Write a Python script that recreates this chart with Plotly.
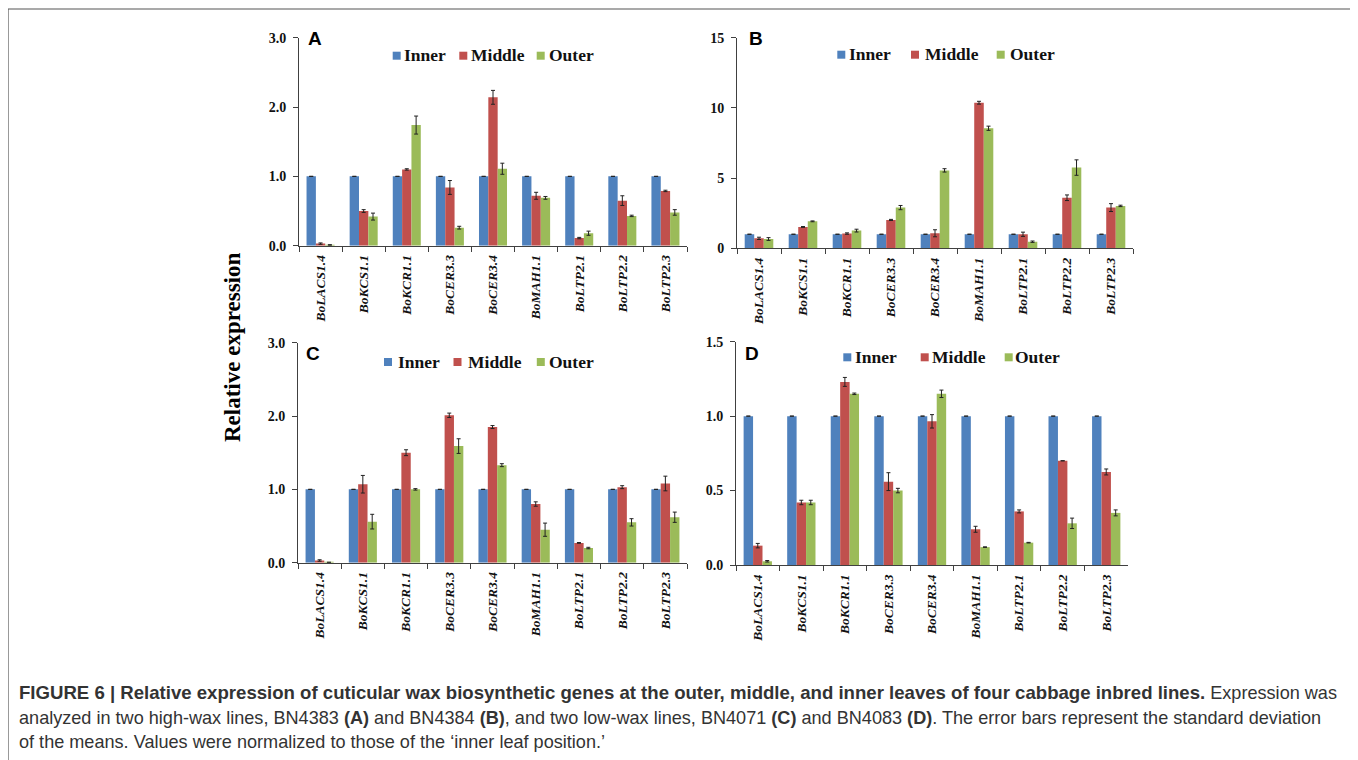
import plotly.graph_objects as go

W, H = 1358, 760
OFF = 8  # page offset of the figure inside the browser window

genes = ["BoLACS1.4", "BoKCS1.1", "BoKCR1.1", "BoCER3.3", "BoCER3.4",
         "BoMAH1.1", "BoLTP2.1", "BoLTP2.2", "BoLTP2.3"]
series_names = ["Inner", "Middle", "Outer"]
colors = ["#4F81BD", "#C0504D", "#9BBB59"]

inner = [1, 1, 1, 1, 1, 1, 1, 1, 1]
inner_err = [0, 0, 0, 0, 0, 0, 0, 0, 0]

# Panel A (BN4383)
a_mid = [0.03, 0.50, 1.10, 0.84, 2.14, 0.72, 0.11, 0.65, 0.79]
a_mid_err = [0.01, 0.02, 0.01, 0.10, 0.10, 0.05, 0.01, 0.07, 0.01]
a_out = [0.01, 0.42, 1.74, 0.26, 1.11, 0.69, 0.18, 0.43, 0.48]
a_out_err = [0.005, 0.05, 0.13, 0.02, 0.08, 0.02, 0.03, 0.01, 0.04]

# Panel B (BN4384)
b_mid = [0.71, 1.52, 1.05, 2.02, 1.07, 10.37, 1.00, 3.60, 2.90]
b_mid_err = [0.08, 0.03, 0.05, 0.04, 0.25, 0.10, 0.15, 0.20, 0.28]
b_out = [0.66, 1.92, 1.26, 2.90, 5.55, 8.55, 0.47, 5.75, 3.02]
b_out_err = [0.10, 0.03, 0.10, 0.15, 0.12, 0.15, 0.05, 0.55, 0.05]

# Panel C (BN4071)
c_mid = [0.03, 1.07, 1.50, 2.01, 1.85, 0.80, 0.27, 1.03, 1.08]
c_mid_err = [0.01, 0.12, 0.04, 0.03, 0.02, 0.03, 0.005, 0.02, 0.10]
c_out = [0.005, 0.56, 1.00, 1.59, 1.33, 0.45, 0.20, 0.55, 0.62]
c_out_err = [0.0, 0.10, 0.01, 0.10, 0.02, 0.09, 0.01, 0.05, 0.07]

# Panel D (BN4083)
d_mid = [0.13, 0.42, 1.23, 0.56, 0.965, 0.24, 0.36, 0.70, 0.625]
d_mid_err = [0.015, 0.015, 0.03, 0.06, 0.045, 0.02, 0.01, 0.0, 0.02]
d_out = [0.025, 0.42, 1.15, 0.50, 1.15, 0.12, 0.15, 0.28, 0.35]
d_out_err = [0.005, 0.015, 0.005, 0.015, 0.025, 0.002, 0.002, 0.035, 0.02]

panels = [
    dict(letter="A", mid=a_mid, mid_err=a_mid_err, out=a_out, out_err=a_out_err,
         ymax=3.0, dtick=1.0, fmt=".1f",
         px=(299, 687), py=(245.7, 37.7), let=(315, 39),
         leg_y=55.7, leg_sq=(396.7, 463.3, 540.7), leg_tx=(402, 469, 547)),
    dict(letter="B", mid=b_mid, mid_err=b_mid_err, out=b_out, out_err=b_out_err,
         ymax=15, dtick=5, fmt="d",
         px=(737, 1133), py=(248.3, 37.7), let=(756, 39),
         leg_y=54.7, leg_sq=(841.3, 915.0, 1000.7), leg_tx=(847, 922.5, 1007.5)),
    dict(letter="C", mid=c_mid, mid_err=c_mid_err, out=c_out, out_err=c_out_err,
         ymax=3.0, dtick=1.0, fmt=".1f",
         px=(298, 687), py=(562.7, 342.7), let=(313, 353),
         leg_y=362, leg_sq=(388, 457.5, 540.8), leg_tx=(395.5, 465.5, 547.3)),
    dict(letter="D", mid=d_mid, mid_err=d_mid_err, out=d_out, out_err=d_out_err,
         ymax=1.5, dtick=0.5, fmt=".1f",
         px=(736, 1128), py=(565, 341.7), let=(752, 353),
         leg_y=357.3, leg_sq=(847.3, 924.7, 1008.7), leg_tx=(852.5, 929.5, 1013)),
]


def fx(p):
    return (p - OFF) / W


def fy(p):
    return 1 - (p - OFF) / H


serif = "Liberation Serif, Times New Roman, serif"
sans = "Liberation Sans, Arial, sans-serif"
axis_col = "#404040"

fig = go.Figure()
layout = {}
annotations = []
shapes = []
ticktext = ["<b><i>%s</i></b>" % g for g in genes]
SQ = 8  # legend key size in px

for i, p in enumerate(panels):
    k = i + 1
    xa = "x" if k == 1 else "x%d" % k
    ya = "y" if k == 1 else "y%d" % k
    vals = [(inner, inner_err), (p["mid"], p["mid_err"]), (p["out"], p["out_err"])]
    for j, (v, e) in enumerate(vals):
        fig.add_trace(go.Bar(
            x=genes, y=v, name=series_names[j], xaxis=xa, yaxis=ya,
            marker=dict(color=colors[j], line=dict(width=0)),
            error_y=dict(type="data", array=e, visible=True, color="#222222",
                         thickness=1, width=2),
            showlegend=False,
        ))
    xkey = "xaxis" if k == 1 else "xaxis%d" % k
    ykey = "yaxis" if k == 1 else "yaxis%d" % k
    layout[xkey] = dict(
        domain=[fx(p["px"][0]), fx(p["px"][1])], anchor=ya,
        type="category", categoryorder="array", categoryarray=genes,
        tickvals=genes, ticktext=ticktext, tickangle=-90,
        tickson="boundaries", ticks="outside", ticklen=5, tickcolor=axis_col,
        ticklabelstandoff=3,
        showline=True, linecolor=axis_col, linewidth=1, showgrid=False,
        tickfont=dict(family=serif, size=13.5, color="#111111"),
        automargin=False, fixedrange=True,
    )
    layout[ykey] = dict(
        domain=[fy(p["py"][0]), fy(p["py"][1])], anchor=xa,
        range=[0, p["ymax"]], dtick=p["dtick"], tickformat=p["fmt"],
        ticks="outside", ticklen=5, tickcolor=axis_col,
        ticklabelstandoff=4,
        showline=True, linecolor=axis_col, linewidth=1,
        showgrid=False, zeroline=False,
        tickfont=dict(family=serif, size=14, color="#111111", weight="bold"),
        automargin=False, fixedrange=True,
    )
    # legend keys and labels
    for j in range(3):
        cx = p["leg_sq"][j]
        cy = p["leg_y"]
        shapes.append(dict(
            type="rect", xref="paper", yref="paper",
            x0=fx(cx - SQ / 2), x1=fx(cx + SQ / 2),
            y0=fy(cy + SQ / 2), y1=fy(cy - SQ / 2),
            fillcolor=colors[j], line=dict(width=0),
        ))
        annotations.append(dict(
            text="<b>%s</b>" % series_names[j],
            x=fx(p["leg_tx"][j]), y=fy(cy - 0.5), xref="paper", yref="paper",
            showarrow=False, xanchor="left", yanchor="middle",
            font=dict(family=serif, size=17.5, color="#111111"),
        ))
    annotations.append(dict(
        text="<b>%s</b>" % p["letter"], x=fx(p["let"][0]), y=fy(p["let"][1]),
        xref="paper", yref="paper", showarrow=False,
        xanchor="center", yanchor="middle",
        font=dict(family=sans, size=19, color="#000000"),
    ))

annotations.append(dict(
    text="<b>Relative expression</b>", x=fx(232), y=fy(347),
    xref="paper", yref="paper", showarrow=False, textangle=-90,
    xanchor="center", yanchor="middle",
    font=dict(family=serif, size=23, color="#000000"),
))

cap_font = dict(family=sans, size=18.1, color="#333333")
B1 = '<span style="font-size:18.6px"><b>'
B2 = '</b></span>'
caption_lines = [
    B1 + "FIGURE 6 | Relative expression of cuticular wax biosynthetic genes at the outer, middle, and inner leaves of four cabbage inbred lines." + B2 + " Expression was",
    "analyzed in two high-wax lines, BN4383 <b>(A)</b> and BN4384 <b>(B)</b>, and two low-wax lines, BN4071 <b>(C)</b> and BN4083 <b>(D)</b>. The error bars represent the standard deviation",
    "of the means. Values were normalized to those of the \u2018inner leaf position.\u2019",
]
for line, yy in zip(caption_lines, [692, 718, 742]):
    annotations.append(dict(
        text=line, x=fx(17), y=fy(yy), xref="paper", yref="paper",
        showarrow=False, xanchor="left", yanchor="middle", align="left",
        font=cap_font,
    ))

shapes.append(dict(type="rect", xref="paper", yref="paper",
                   x0=fx(8), x1=fx(1353), y0=fy(775), y1=fy(9),
                   line=dict(color="#555555", width=1.2)))

fig.update_layout(
    width=W, height=H, autosize=False,
    margin=dict(l=0, r=0, t=0, b=0, pad=0, autoexpand=False),
    paper_bgcolor="white", plot_bgcolor="white",
    barmode="group", bargap=0.35, bargroupgap=0.0,
    showlegend=False,
    annotations=annotations,
    shapes=shapes,
    **layout,
)

fig.write_html("out.html")
